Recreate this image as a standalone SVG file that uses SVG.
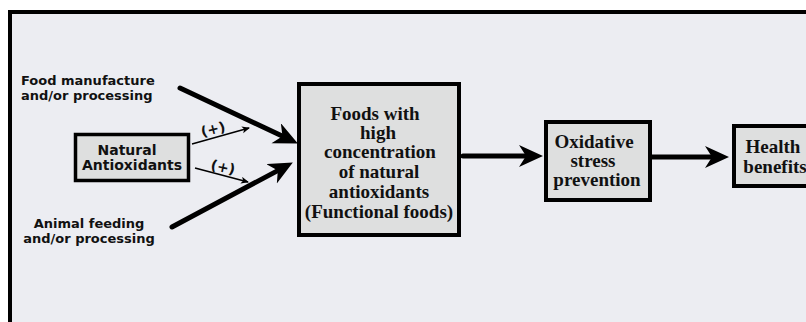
<svg xmlns="http://www.w3.org/2000/svg" width="806" height="322" viewBox="0 0 806 322">
<style>
.frame{fill:#ECEDF2;stroke:#000;stroke-width:4}
.box{fill:#DEDFDF;stroke:#000;stroke-width:4}
.sans{font-family:"DejaVu Sans",Verdana,sans-serif;font-weight:bold;font-size:13px;fill:#111}
.serif{font-family:"Liberation Serif","Times New Roman",serif;font-weight:bold;font-size:19px;fill:#111;text-anchor:middle}
.thick{stroke:#000;stroke-width:5;stroke-linecap:round;fill:none}
.thin{stroke:#000;stroke-width:1.6;fill:none}
</style>
<defs>
<marker id="big" markerUnits="userSpaceOnUse" markerWidth="26" markerHeight="24" refX="9" refY="11" orient="auto">
<path d="M0,0 L24,11 L0,22 L7,11 z" fill="#000"/>
</marker>
<marker id="small" markerUnits="userSpaceOnUse" markerWidth="9" markerHeight="8" refX="7" refY="3.5" orient="auto">
<path d="M0,0 L8,3.5 L0,7 L2,3.5 z" fill="#000"/>
</marker>
</defs>
<rect x="0" y="0" width="806" height="322" fill="#fff"/>
<rect class="frame" x="10" y="12" width="820" height="340"/>

<g id="connectors">
<line class="thick" x1="180" y1="88" x2="284.3" y2="137" marker-end="url(#big)"/>
<line class="thick" x1="172" y1="227" x2="279.6" y2="169.6" marker-end="url(#big)"/>
<line class="thick" x1="463" y1="156" x2="528" y2="156" marker-end="url(#big)"/>
<line class="thick" x1="652" y1="157" x2="714" y2="157" marker-end="url(#big)"/>
<line class="thin" x1="192" y1="144" x2="249" y2="128" marker-end="url(#small)"/>
<line class="thin" x1="195" y1="168" x2="248" y2="182" marker-end="url(#small)"/>
<text class="sans" x="213" y="134" text-anchor="middle" style="font-size:14px" transform="rotate(-14 213 129)">(+)</text>
<text class="sans" x="223" y="172" text-anchor="middle" style="font-size:14px" transform="rotate(12 223 167)">(+)</text>
</g>

<g id="food-manufacture">
<text class="sans" x="21" y="85">Food manufacture</text>
<text class="sans" x="21" y="100">and/or processing</text>
</g>

<g id="animal-feeding">
<text class="sans" x="89" y="228" text-anchor="middle">Animal feeding</text>
<text class="sans" x="89" y="243" text-anchor="middle">and/or processing</text>
</g>

<g id="natural-antioxidants">
<rect class="box" x="75.5" y="134.5" width="113" height="46" style="stroke-width:3.5"/>
<text class="sans" x="127" y="155" text-anchor="middle" style="font-size:14px">Natural</text>
<text class="sans" x="132" y="170" text-anchor="middle" style="font-size:14px">Antioxidants</text>
</g>

<g id="functional-foods">
<rect class="box" x="299" y="84" width="160" height="151"/>
<text class="serif" x="375" y="120">Foods with</text>
<text class="serif" x="378" y="139">high</text>
<text class="serif" x="380" y="158">concentration</text>
<text class="serif" x="379" y="178">of natural</text>
<text class="serif" x="379" y="198">antioxidants</text>
<text class="serif" x="379" y="218">(Functional foods)</text>
</g>

<g id="oxidative-stress">
<rect class="box" x="546" y="122" width="104" height="78"/>
<text class="serif" x="594" y="148">Oxidative</text>
<text class="serif" x="593" y="167">stress</text>
<text class="serif" x="597" y="186">prevention</text>
</g>

<g id="health-benefits">
<rect class="box" x="734" y="126" width="90" height="60"/>
<text class="serif" x="773" y="153">Health</text>
<text class="serif" x="775" y="173">benefits</text>
</g>
</svg>
